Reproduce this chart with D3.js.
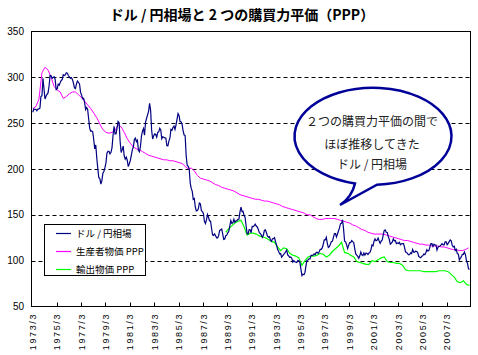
<!DOCTYPE html>
<html><head><meta charset="utf-8">
<script src="https://cdn.jsdelivr.net/npm/d3@7"></script>
<style>
html,body{margin:0;padding:0;background:#fff;}
svg{display:block;}
</style></head>
<body>
<svg id="chart" width="478" height="355"></svg>
<script>
// ---- data ----
const titleText = "ドル / 円相場と 2 つの購買力平価（PPP）";
const startYear = 1973, startMonth = 3, monthCount = 431; // 1973/3 .. 2009/1
const yTicks = [50, 100, 150, 200, 250, 300, 350];
const gridValues = [100, 150, 200, 250, 300];
const labelEvery = 24;
const seriesNames = ["ドル / 円相場", "生産者物価 PPP", "輸出物価 PPP"];
const calloutLines = ["２つの購買力平価の間で", "ほぼ推移してきた", "ドル / 円相場"];

// monthly USD/JPY, 1973/3 - 2009/1
const usdJpy = [
 261.9,265.5,264.9,265.0,263.5,265.3,265.5,266.4,279.0,280.0,
 299.0,287.6,276.3,279.4,281.5,283.0,290.5,302.2,301.7,299.0,299.8,300.6,
 297.7,286.6,287.3,292.6,291.5,294.4,296.6,297.7,302.7,301.9,302.6,305.0,
 304.6,302.0,300.6,298.9,299.7,297.7,293.6,288.6,287.8,292.9,296.0,294.4,
 292.8,283.8,280.8,276.8,277.2,272.7,264.9,267.0,265.0,254.6,244.6,241.2,
 241.6,240.5,231.9,222.0,226.2,211.7,200.5,190.4,189.5,183.5,187.1,195.5,
 197.2,201.4,206.4,217.2,219.2,219.3,216.5,218.2,223.4,236.6,246.6,238.2,
 238.4,245.1,251.9,250.5,229.9,218.0,221.3,225.0,214.2,210.7,213.0,209.6,
 202.6,205.7,209.1,214.9,220.8,224.2,232.1,233.6,229.8,231.4,220.6,218.7,
 224.6,236.0,241.3,244.1,236.9,251.2,255.1,259.0,262.9,271.6,264.0,242.5,
 232.7,236.1,238.3,237.7,234.8,240.0,240.5,244.4,242.7,233.0,235.2,234.6,
 233.9,233.5,225.4,225.2,230.5,233.6,243.1,242.2,245.3,246.8,243.2,247.9,
 254.2,260.4,258.4,251.7,251.6,248.9,241.7,237.1,236.5,214.7,204.1,202.8,
 200.1,184.6,178.8,175.6,166.9,167.8,158.6,154.2,154.7,156.5,162.9,162.1,
 154.5,153.5,151.6,142.9,140.5,144.5,150.3,147.3,143.3,143.3,135.4,128.2,
 127.6,129.2,127.2,124.9,124.8,127.5,133.0,133.8,134.5,129.0,123.2,123.6,
 127.2,127.8,130.4,132.0,138.0,143.8,140.6,141.2,145.1,141.9,143.5,143.6,
 145.1,145.5,153.2,158.5,153.5,153.8,149.3,147.4,138.4,129.6,129.2,133.9,
 133.7,130.5,137.4,137.1,138.2,139.8,137.8,136.8,134.3,130.8,129.6,128.1,
 125.5,127.7,132.9,133.5,130.8,126.9,125.6,126.2,122.6,121.2,123.9,123.9,
 125.0,120.8,117.1,112.4,110.3,107.4,107.7,103.8,105.2,106.9,107.9,109.7,
 111.5,106.3,105.1,103.5,104.0,102.7,98.5,100.1,98.8,98.4,98.0,100.2,
 99.8,98.2,90.8,83.7,85.1,84.6,87.2,94.5,100.3,100.7,101.9,101.9,
 105.8,105.7,105.9,107.4,106.5,108.8,109.2,107.8,109.8,112.3,112.3,113.9,
 117.9,122.7,122.7,125.5,118.9,114.3,115.2,117.9,120.9,121.1,125.4,129.5,
 129.5,125.8,129.1,132.4,135.7,140.4,140.7,144.7,134.5,121.3,120.6,117.4,
 113.2,116.7,119.7,119.7,122.0,120.7,119.7,113.2,107.4,106.0,104.7,102.6,
 105.3,109.4,106.3,105.6,108.3,106.1,108.2,108.1,106.8,108.4,109.0,112.2,
 117.1,116.1,121.2,123.8,121.8,122.2,124.6,121.5,118.9,121.3,122.4,127.6,
 132.7,133.6,131.0,130.8,126.4,123.3,118.0,119.0,120.5,123.9,121.6,121.9,
 118.7,119.3,118.7,119.9,117.4,118.3,118.7,118.7,114.8,109.5,109.2,107.7,
 106.3,106.7,108.5,107.7,112.2,109.4,109.4,110.3,110.0,108.8,104.7,103.8,
 103.3,104.9,105.3,107.3,106.6,108.6,111.9,110.6,111.0,114.8,118.5,118.5,
 115.5,117.9,117.3,117.1,111.5,114.5,115.6,115.9,117.2,118.6,117.3,117.3,
 120.6,120.5,117.3,118.8,120.8,122.6,121.6,116.7,115.0,115.8,111.1,112.4,
 107.6,107.1,100.8,102.7,104.4,106.9,106.9,109.4,106.6,100.1,96.9,91.3,
 90.3
];

// producer price PPP, every 3 months from 1973/3
const ppiStep = 3, ppiStart = 0;
const ppiPPP = [
 266,268,276,305,311,308,300,290,286,284,277,279,282,284,284,281,278,274,270,266,
 261,256,249,243,240,239,240,242,248,246,240,233,228,224,222,221,219,217,215,214,
 213,212,211,210,210,209,209,208,207,206,203,200,201,198,193,190,189,188,187,185,
 183,182,180,179,178,177,176,174,172,171,170,169,168,167,167,166,165,165,164,163,
 162,161,159,158,157,156,155,154,153,152,150,150,148,146,145,145,146,146,146,146,
 145,144,143,142,141,139,138,136,134,133,131,130,129,129,129,129,128,127,126,125,
 124,123,122,122,121,120,119,118,118,117,117,116,116,116,115,115,114,113,112,112,
 111,111,112,114
];

// export price PPP, every 3 months from 1989/1 (month index 190)
const expStep = 3, expStart = 190;
const exportPPP = [
 131,135,138,141,143,144,137,128,130,130,129,127,126,125,123,121,120,115,111,114,
 113,108,106,105,103,95,100,104,105,105,106,108,107,104,106,110,113,116,120,109,
 108,106,104,99,98,97,96,96,100,99,101,103,104,99,98,98,97,97,95,90,
 89,89,89,89,89,88,88,88,88,88,89,89,89,88,85,82,77,76,78,74,
 73
];

// ---- layout ----
const svg = d3.select("#chart");
const L = 31.5, R = 470.5, T = 31.5, B = 306.5;
const months = d3.range(monthCount).map(i => {
  const m = startMonth - 1 + i;
  return (startYear + Math.floor(m / 12)) + "/" + (m % 12 + 1);
});
const x = d3.scaleBand().domain(months).range([L + 0.8, R - 0.5]).paddingInner(0).paddingOuter(0);
const bw = x.bandwidth();
const xc = i => x(months[i]) + bw / 2;
const y = d3.scaleLinear().domain([50, 350]).range([B, T]);

const jpFont = "'Noto Sans CJK JP','Noto Sans CJK SC',sans-serif";
const numFont = "'Liberation Sans',Arial,sans-serif";

svg.append("rect").attr("width", 478).attr("height", 355).attr("fill", "#fff");

// title
svg.append("text").attr("x", 242).attr("y", 20).attr("text-anchor", "middle")
  .attr("font-family", jpFont).attr("font-weight", "bold").attr("font-size", 14)
  .attr("fill", "#000").text(titleText);

// grid
svg.append("g").selectAll("line").data(gridValues).join("line")
  .attr("x1", L).attr("x2", R)
  .attr("y1", d => Math.round(y(d)) + 0.5).attr("y2", d => Math.round(y(d)) + 0.5)
  .attr("stroke", "#000").attr("stroke-width", 1).attr("stroke-dasharray", "4,3");

// plot border
svg.append("rect").attr("x", L).attr("y", T).attr("width", R - L).attr("height", B - T)
  .attr("fill", "none").attr("stroke", "#000").attr("stroke-width", 1);

// y labels
svg.append("g").selectAll("text").data(yTicks).join("text")
  .attr("x", 24).attr("y", d => y(d)).attr("dy", "0.35em").attr("text-anchor", "end")
  .attr("font-family", numFont).attr("font-size", 10).attr("fill", "#000")
  .text(d => d);

// x ticks (inside, every 24 months)
const tickIdx = d3.range(labelEvery, monthCount, labelEvery);
svg.append("g").selectAll("line").data(tickIdx).join("line")
  .attr("x1", i => Math.round(x(months[i])) + 0.5).attr("x2", i => Math.round(x(months[i])) + 0.5)
  .attr("y1", B).attr("y2", B - 4).attr("stroke", "#000");

// x labels
const labelIdx = d3.range(0, monthCount, labelEvery);
svg.append("g").selectAll("text").data(labelIdx).join("text")
  .attr("transform", i => `translate(${x(months[i]) + 0.5},313) rotate(-90)`)
  .attr("dy", "0.35em").attr("text-anchor", "end")
  .attr("font-family", numFont).attr("font-size", 9).attr("letter-spacing", 1.6)
  .attr("fill", "#000").text(i => months[i]);

// lines
const line = d3.line().x(d => xc(d[0])).y(d => y(d[1]));
const blueData = usdJpy.map((v, i) => [i, v]);
const ppiData = ppiPPP.map((v, k) => [ppiStart + k * ppiStep, v]);
const expData = exportPPP.map((v, k) => [Math.min(expStart + k * expStep, monthCount - 1), v]);

svg.append("path").datum(ppiData).attr("d", line).attr("fill", "none")
  .attr("stroke", "#ff00ff").attr("stroke-width", 1);
svg.append("path").datum(expData).attr("d", line).attr("fill", "none")
  .attr("stroke", "#00ff00").attr("stroke-width", 1.2);
svg.append("path").datum(blueData).attr("d", line).attr("fill", "none")
  .attr("stroke", "#000080").attr("stroke-width", 1.2);

// legend
const lg = svg.append("g");
lg.append("rect").attr("x", 44.5).attr("y", 224.5).attr("width", 101).attr("height", 51)
  .attr("fill", "#fff").attr("stroke", "#000");
const colors = ["#000080", "#ff00ff", "#00ff00"];
const rowsY = [233.5, 251.5, 269.5];
seriesNames.forEach((n, k) => {
  lg.append("line").attr("x1", 56).attr("x2", 71).attr("y1", rowsY[k]).attr("y2", rowsY[k])
    .attr("stroke", colors[k]).attr("stroke-width", 1.2);
  lg.append("text").attr("x", 76).attr("y", rowsY[k]).attr("dy", "0.35em")
    .attr("font-family", jpFont).attr("font-size", 9.5).attr("fill", "#000").text(n);
});

// callout
const cx = 373, cy = 136.3, rx = 78.5, ry = 48.5;
const jl = 355, jr = 377;
const yl = cy + ry * Math.sqrt(1 - ((jl - cx) / rx) ** 2);
const yr = cy + ry * Math.sqrt(1 - ((jr - cx) / rx) ** 2);
const tipX = 340, tipY = 205;
svg.append("path")
  .attr("d", `M${jr},${yr} A${rx},${ry} 0 1 0 ${jl},${yl} Q352,197 ${tipX},${tipY} Q362,193 ${jr},${yr} Z`)
  .attr("fill", "#fff").attr("stroke", "#000099").attr("stroke-width", 2.5);
const ctY = [121.5, 144.5, 164.5];
calloutLines.forEach((t, k) => {
  svg.append("text").attr("x", 372).attr("y", ctY[k]).attr("dy", "0.35em")
    .attr("text-anchor", "middle").attr("font-family", jpFont).attr("font-size", 12)
    .attr("fill", "#222").text(t);
});
</script>
</body></html>
